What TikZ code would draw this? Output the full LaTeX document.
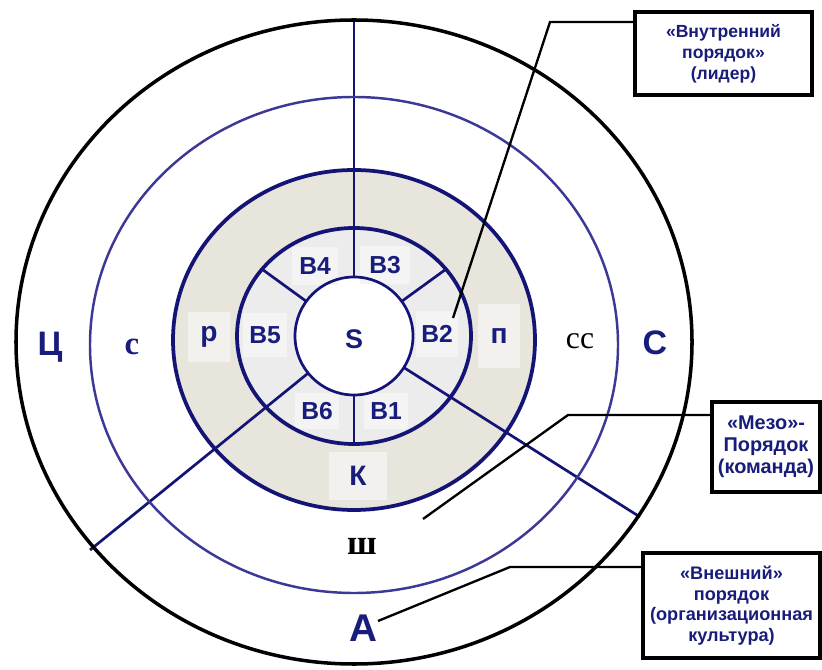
\documentclass[tikz,border=0pt]{standalone}
\usepackage{fontspec}
\setmainfont{Liberation Sans}
\newfontfamily\serifcyr{Liberation Serif}
\usetikzlibrary{calc}
\newlength\pxu
\setlength\pxu{0.03cm}
\definecolor{navy}{RGB}{24,28,122}
\definecolor{ringnavy}{RGB}{20,20,118}
\definecolor{midnavy}{RGB}{60,56,150}
\definecolor{beige}{RGB}{232,229,220}
\definecolor{bring}{RGB}{236,236,237}
\definecolor{boxB}{RGB}{244,244,245}
\definecolor{boxR}{RGB}{242,241,238}
\tikzset{
  blab/.style={font=\fontsize{21}{24}\selectfont\bfseries, text=navy, fill=boxB, minimum width=44\pxu, minimum height=38\pxu, inner sep=0pt},
  rlab/.style={font=\fontsize{24}{26}\selectfont\bfseries, text=navy, fill=boxR, inner sep=0pt},
  biglab/.style={font=\fontsize{29}{31}\selectfont\bfseries, text=navy},
  seriflab/.style={font=\serifcyr\fontsize{27}{29}\selectfont},
  callout/.style={draw=black, line width=3pt, fill=white, align=center, text=navy, inner sep=0pt},
  ringline/.style={draw=ringnavy, line width=3.2pt},
  thinring/.style={draw=midnavy, line width=2.1pt},
  radial/.style={draw=ringnavy, line width=2.3pt},
  lead/.style={draw=black, line width=2pt},
}
\begin{document}
\begin{tikzpicture}[x=0.03cm,y=0.03cm]
\useasboundingbox (0,0) rectangle (822,669);
\fill[white] (0,0) rectangle (822,669);

% centres
\coordinate (cO) at (354,327);
\coordinate (cT) at (354,324);
\coordinate (cR) at (354,329);
\coordinate (cB) at (354,333);
\coordinate (cS) at (354,333);

% fills
\fill[beige] (cR) ellipse [x radius=181, y radius=170];
\fill[bring] (cB) ellipse [x radius=117, y radius=108];
\fill[white] (cS) circle [radius=59];

% label boxes and labels inside rings
\node[blab, minimum width=46\pxu] (b4) at (315,403) {B4};
\node[blab, minimum width=50\pxu] (b3) at (385,404) {B3};
\node[blab, minimum height=44\pxu] (b5) at (265,334) {B5};
\node[blab, minimum width=42\pxu, minimum height=46\pxu] (b2) at (437,335) {B2};
\node[blab, minimum height=36\pxu] (b6) at (317,258) {B6};
\node[blab, minimum height=36\pxu] (b1) at (386,258) {B1};
\node[rlab, minimum width=42\pxu, minimum height=50\pxu] (rr) at (209,332) {р};
\node[rlab, minimum width=42\pxu, minimum height=64\pxu] (pp) at (499,333) {п};
\node[rlab, minimum width=58\pxu, minimum height=48\pxu] (kk) at (358,193) {К};
\node[font=\fontsize{23}{26}\selectfont\bfseries, text=navy] (s) at (354,330) {S};

% radial lines
\draw[radial] (354,392) -- (354,649);
\draw[radial] (354,274) -- (354,225);
\draw[radial] ($(cS)+(144:59)$) -- ($(cS)+(144:113.7)$);
\draw[radial] ($(cS)+(36:59)$) -- ($(cS)+(36:113.7)$);
\coordinate (ll) at (90,119);
\coordinate (lr) at (640,152);
\draw[radial] ($(cS)!59/339.8!(ll)$) -- (ll);
\draw[radial] ($(cS)!59/338.5!(lr)$) -- (lr);

% rings
\draw[black, line width=3pt] (cO) ellipse [x radius=338, y radius=322];
\draw[thinring] (cT) ellipse [x radius=264, y radius=248];
\draw[ringline] (cR) ellipse [x radius=181, y radius=170];
\draw[ringline] (cB) ellipse [x radius=117, y radius=108];
\draw[ringnavy, line width=2.3pt] (cS) circle [radius=59];

% outer labels
\node[biglab] (ts) at (50,322) {Ц};
\node[biglab] (tc) at (655,326) {С};
\node[biglab, font=\fontsize{33}{35}\selectfont\bfseries] (ta) at (363,41) {А};
\node[seriflab, font=\serifcyr\bfseries\fontsize{28}{30}\selectfont, text=navy] (sc) at (132,322) {с};
\node[seriflab, text=black] (scc) at (580,328) {сс};
\node[seriflab, font=\serifcyr\bfseries\fontsize{30}{32}\selectfont, text=black] (sh) at (362,123) {ш};

% callouts
\node[callout, minimum width=177\pxu, minimum height=83\pxu, font=\fontsize{15}{18}\selectfont\bfseries] (c1) at (723.5,615.5) {«Внутренний\\порядок»\\(лидер)};
\node[callout, minimum width=108\pxu, minimum height=90\pxu, font=\fontsize{17}{18.6}\selectfont\bfseries] (c2) at (766,222) {«Мезо»-\\Порядок\\(команда)};
\node[callout, minimum width=177\pxu, minimum height=105\pxu, font=\fontsize{15.5}{17.6}\selectfont\bfseries] (c3) at (731.5,63.5) {«Внешний»\\порядок\\(организационная\\культура)};

\coordinate (p1) at (453,351);
\coordinate (k1) at (550,647);
\coordinate (p2) at (423,150);
\coordinate (k2) at (568,254);
\coordinate (p3) at (378,48);
\coordinate (k3) at (510,102);
\draw[lead] (p1) -- (k1) -- (c1.west |- k1);
\draw[lead] (p2) -- (k2) -- (c2.west |- k2);
\draw[lead] (p3) -- (k3) -- (c3.west |- k3);
\end{tikzpicture}
\end{document}
